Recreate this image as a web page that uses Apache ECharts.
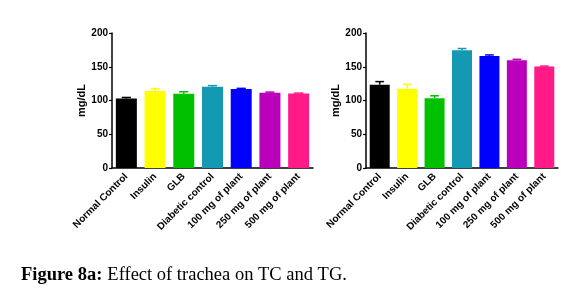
<!DOCTYPE html>
<html><head><meta charset="utf-8">
<script src="https://cdn.jsdelivr.net/npm/echarts@6/dist/echarts.min.js"></script>
<style>
html, body { margin: 0; padding: 0; background: #fff; }
#main { width: 580px; height: 296px; }
</style></head>
<body><div id="main"></div>
<script>
var categories = ['Normal Control', 'Insulin', 'GLB', 'Diabetic control', '100 mg of plant', '250 mg of plant', '500 mg of plant'];
var tcMean = [103, 114, 110, 120.5, 117, 111.5, 110.5];
var tcTop = [104.5, 117.5, 113, 122, 118, 112.5, 111];
var tgMean = [123.5, 117.5, 103.5, 174.5, 166, 159.5, 150.5];
var tgTop = [128, 124, 107, 177, 167.5, 161, 151];
var barColors = ['#000000', '#ffff00', '#00c000', '#1399b2', '#0000ff', '#bb00bb', '#ff1a88'];

var myChart = echarts.init(document.getElementById('main'));

function errSeries(idx, tops, means) {
    return {
        type: 'custom',
        xAxisIndex: idx, yAxisIndex: idx,
        z: 1,
        data: tops.map(function (t, i) { return [i, means[i], t]; }),
        renderItem: function (params, api) {
            var lo = api.coord([api.value(0), api.value(1)]);
            var hi = api.coord([api.value(0), api.value(2)]);
            var w = api.size([1, 0])[0] * 0.32;
            var c = barColors[params.dataIndex];
            return {
                type: 'group',
                children: [
                    { type: 'line', shape: { x1: lo[0], y1: lo[1], x2: hi[0], y2: hi[1] }, style: { stroke: c, lineWidth: 1.5 } },
                    { type: 'line', shape: { x1: hi[0] - w / 2, y1: hi[1], x2: hi[0] + w / 2, y2: hi[1] }, style: { stroke: c, lineWidth: 1.5 } }
                ]
            };
        }
    };
}

function barSeries(idx, means, bw) {
    return {
        type: 'bar',
        xAxisIndex: idx, yAxisIndex: idx,
        barWidth: bw,
        z: 2,
        data: means.map(function (v, i) { return { value: v, itemStyle: { color: barColors[i] } }; })
    };
}

var axisText = { color: '#000', fontFamily: 'Liberation Sans', fontWeight: 'bold', fontSize: 10 };

function xAx(idx) {
    return {
        type: 'category', gridIndex: idx, data: categories,
        axisLine: { lineStyle: { color: '#000', width: 1.5 } },
        axisTick: { alignWithLabel: true, length: 3, lineStyle: { color: '#000', width: 1.2 } },
        axisLabel: Object.assign({ rotate: 45, margin: 7, interval: 0 }, axisText)
    };
}
function yAx(idx) {
    return {
        type: 'value', gridIndex: idx, min: 0, max: 200, interval: 50,
        name: 'mg/dL', nameLocation: 'middle', nameGap: 25,
        nameTextStyle: { color: '#000', fontFamily: 'Liberation Sans', fontWeight: 'bold', fontSize: 11 },
        axisLine: { show: true, lineStyle: { color: '#000', width: 1.5 } },
        axisTick: { show: true, length: 3, lineStyle: { color: '#000', width: 1.2 } },
        splitLine: { show: false },
        axisLabel: Object.assign({ margin: 4 }, axisText)
    };
}

var option = {
    animation: false,
    title: {
        left: 16, top: 261,
        text: '{b|Figure 8a:} {n|Effect of trachea on TC and TG.}',
        textStyle: {
            rich: {
                b: { fontFamily: 'Liberation Serif', fontWeight: 'bold', fontSize: 18.5, color: '#000' },
                n: { fontFamily: 'Liberation Serif', fontWeight: 'normal', fontSize: 18.5, color: '#000' }
            }
        }
    },
    grid: [
        { left: 112, right: 267, top: 33, bottom: 128 },
        { left: 366, right: 22, top: 33, bottom: 128 }
    ],
    xAxis: [xAx(0), xAx(1)],
    yAxis: [yAx(0), yAx(1)],
    series: [
        errSeries(0, tcTop, tcMean), barSeries(0, tcMean, 21),
        errSeries(1, tgTop, tgMean), barSeries(1, tgMean, 20)
    ]
};
myChart.setOption(option);
</script></body></html>
